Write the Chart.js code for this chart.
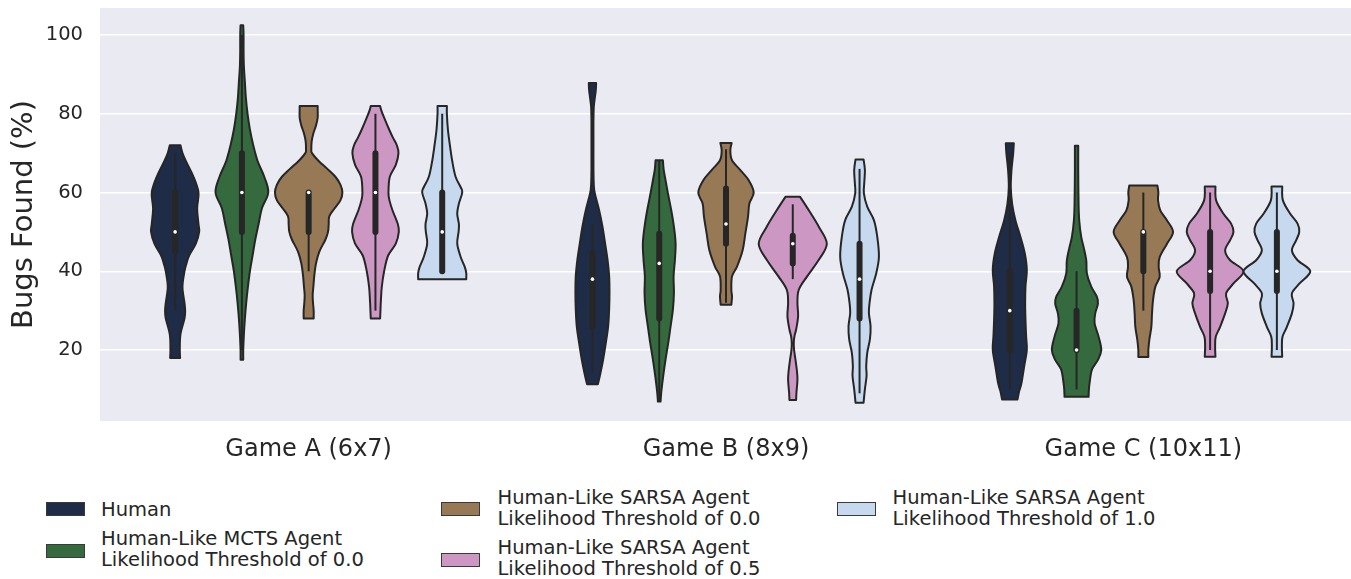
<!DOCTYPE html>
<html>
<head>
<meta charset="utf-8">
<script src="https://cdn.jsdelivr.net/npm/chart.js@4.4.1/dist/chart.umd.min.js"></script>
<style>
  html, body { margin: 0; padding: 0; background: #fff; overflow: hidden; }
  body { width: 1351px; height: 579px; position: relative; font-family: 'DejaVu Sans', sans-serif; color: #262626; }
  #chart { position: absolute; left: 0; top: 0; }
  .leg-text { position: absolute; font-size: 19.5px; line-height: 21px; white-space: nowrap; }
  .leg-patch { position: absolute; width: 39px; height: 14px; box-sizing: border-box; border: 1px solid #3a3a3a; }
</style>
</head>
<body>
<canvas id="chart" width="1356" height="470"></canvas>
<div id="legend"></div>
<script>
// categories, groups and ticks
const games = ['Game A (6x7)', 'Game B (8x9)', 'Game C (10x11)'];
const groupNames = [
  ['Human'],
  ['Human-Like MCTS Agent', 'Likelihood Threshold of 0.0'],
  ['Human-Like SARSA Agent', 'Likelihood Threshold of 0.0'],
  ['Human-Like SARSA Agent', 'Likelihood Threshold of 0.5'],
  ['Human-Like SARSA Agent', 'Likelihood Threshold of 1.0']
];
const groupColors = ['#1f2c47', '#346a3e', '#977955', '#cc98c3', '#c7d9ee'];
const yTicks = [20, 40, 60, 80, 100];

// inner box stats, one value per game (A, B, C)
const medians = [[50, 38, 30], [60, 42, 20], [60, 52, 50], [60, 47, 40], [50, 38, 40]];
const q1s     = [[45, 26, 20], [50, 28, 20], [50, 47, 40], [50, 42, 35], [40, 28, 35]];
const q3s     = [[60, 44.5, 40], [70, 49.5, 30], [60, 61, 50], [70, 49, 50], [60, 47, 50]];
const whiskLo = [[30, 14, 10], [20, 7, 10], [40, 32, 30], [30, 38, 20], [40, 9, 20]];
const whiskHi = [[70, 52, 70], [100, 68, 40], [60, 71, 60], [80, 57, 60], [80, 66, 60]];

// violin outlines, bottom to top: [bugs found %, half width in % of the widest violin]
const humanShapes = [
  [[18,15],[20,14],[24,16],[28,28],[30,30],[32,28],[36,22],[40,28],[42,34],[44,42],[47,62],[50,72],[52,70],[56,66],[60,70],[64,55],[68,32],[70,22],[72,16]],
  [[11.3,16],[13.4,22],[17.6,32],[21.8,40],[26,47],[30.3,50],[34.5,51],[38.7,50],[43,45],[47,38],[51.3,30],[55.5,20],[59.8,7],[62,4],[66,3],[72,3],[78,3],[81.7,4],[84,7],[86,10],[87.8,11]],
  [[7.4,23],[9.5,28],[11.6,35],[15.8,43],[20,51],[23.4,49],[27.6,47],[31.8,46],[36.1,47],[40.3,51],[44.5,45],[48.7,32],[52.9,17],[57.1,7],[61.3,3],[65.6,5],[69.8,10],[72.5,12]]
];
const mctsShapes = [
  [[17.5,4],[20,4],[24,6],[28,9],[32,13],[36,18],[40,24],[44,32],[48,40],[52,50],[56,60],[60,79],[64,67],[68,47],[72,34],[76,24],[80,17],[84,12],[88,9],[92,6],[96,5],[100,5],[102.5,4]],
  [[6.9,4],[9.2,6],[13.4,12],[17.6,19],[21.8,27],[26,34],[30.3,41],[34.5,44],[38.7,43],[42.9,47],[47.1,49],[51.3,44],[55.5,36],[59.8,26],[64,17],[66,13],[68.2,11]],
  [[8.1,36],[10,37],[11.6,39],[15,46],[17.5,64],[20,74],[23.4,66],[26.8,54],[29.3,56],[31.8,64],[33.5,61],[36.1,44],[39.4,31],[42.8,29],[46.2,21],[48.7,14],[52.9,8],[57.1,6],[65.6,5],[71.9,5]]
];
const sarsa00Shapes = [
  [[28,15],[30,15],[32,13],[34,12],[36,14],[39,17],[42,22],[45,32],[48,50],[50,58],[52,60],[54,62],[56,78],[58,95],[60,101],[62,95],[64,80],[66,56],[68,30],[70,10],[71,8],[73,9],[75,14],[77,22],[79,27],[81,27],[82,27]],
  [[31.5,16],[33.6,18],[35.3,16],[38.7,18],[41.2,33],[45.4,50],[49.6,58],[53.9,66],[57.2,70],[60,83],[63.1,68],[65.7,43],[68.2,18],[70.7,13],[72.6,17]],
  [[18.2,15],[20,15],[22.6,18],[25.9,24],[29.3,26],[32.7,29],[36.1,36],[38.6,49],[41.1,46],[43.6,49],[47,71],[50,89],[52.9,71],[55.4,51],[58,44],[60,45],[61.8,42]]
];
const sarsa05Shapes = [
  [[28,14],[30,15],[32,16],[36,19],[40,26],[44,38],[47,61],[50,70],[52,67],[55.5,51],[58,42],[60,39],[64,43],[67,61],[70,69],[72,64],[74,52],[76,41],[79,26],[81,17],[82,14]],
  [[7.3,10],[9.2,11],[12.5,14],[15,12],[17.6,8],[20,4],[21.8,3],[23.5,5],[25.2,10],[28.6,16],[32,14],[35.3,18],[38.7,43],[42.9,78],[47,102],[51.3,78],[55.5,48],[58.9,22]],
  [[18.3,16],[20.9,15],[23.4,17],[25.9,30],[29.3,45],[31.8,53],[34.4,48],[36.9,70],[40,100],[42.8,60],[45.3,45],[47.9,60],[50,70],[52.1,63],[54.6,40],[58,18],[61.5,16]]
];
const sarsa10Shapes = [
  [[38,72],[39.5,72],[41,68],[43.7,55],[47,45],[50,49],[52,50],[54.6,45],[57.2,50],[60,60],[61.4,55],[64,40],[68,30],[72,23],[76,17],[80,14],[82,14]],
  [[6.6,12],[10,16],[13.4,21],[15.9,20],[19.3,23],[22.7,31],[26,33],[29.4,28],[32,30],[35.3,36],[39.5,50],[43.7,58],[48.8,53],[53,43],[56.4,23],[59.8,13],[62.3,14],[65.7,16],[68.4,12]],
  [[18.3,16],[20.9,15],[23.4,17],[25.9,30],[29.3,45],[31.8,50],[34.4,45],[36.9,68],[40,100],[42.8,62],[45.3,45],[47.9,58],[50,67],[52.1,62],[54.6,40],[58,18],[61.5,16]]
];
const shapes = [humanShapes, mctsShapes, sarsa00Shapes, sarsa05Shapes, sarsa10Shapes];

// seaborn-like dodge: 0.8 of each category split between the five groups
const slot = 0.8 / groupNames.length;
const hueOffset = g => (g - (groupNames.length - 1) / 2) * slot;
const lineColor = '#262626';

// Catmull-Rom through the points, as bezier segments
function smoothThrough(ctx, pts) {
  for (let i = 0; i < pts.length - 1; i++) {
    const p0 = pts[Math.max(i - 1, 0)], p1 = pts[i], p2 = pts[i + 1], p3 = pts[Math.min(i + 2, pts.length - 1)];
    ctx.bezierCurveTo(
      p1.x + (p2.x - p0.x) / 6, p1.y + (p2.y - p0.y) / 6,
      p2.x - (p3.x - p1.x) / 6, p2.y - (p3.y - p1.y) / 6,
      p2.x, p2.y);
  }
}

const violinPlugin = {
  id: 'violins',
  beforeDraw(chart) {
    const { ctx, chartArea: a } = chart;
    ctx.save();
    ctx.fillStyle = '#eaeaf2';
    ctx.fillRect(a.left, a.top, a.right - a.left, a.bottom - a.top);
    ctx.restore();
  },
  beforeDatasetsDraw(chart) {
    const { ctx, chartArea: a, scales: { x, y } } = chart;
    ctx.save();
    ctx.beginPath();
    ctx.rect(a.left, a.top, a.right - a.left, a.bottom - a.top);
    ctx.clip();
    shapes.forEach((perGame, g) => {
      perGame.forEach((outline, k) => {
        const cx = k + hueOffset(g);
        const half = w => (slot / 2) * w / 100;
        const right = outline.map(([v, w]) => ({ x: x.getPixelForValue(cx + half(w)), y: y.getPixelForValue(v) }));
        const left = outline.map(([v, w]) => ({ x: x.getPixelForValue(cx - half(w)), y: y.getPixelForValue(v) })).reverse();
        ctx.beginPath();
        ctx.moveTo(right[0].x, right[0].y);
        smoothThrough(ctx, right);
        ctx.lineTo(left[0].x, left[0].y);
        smoothThrough(ctx, left);
        ctx.closePath();
        ctx.fillStyle = groupColors[g];
        ctx.fill();
        ctx.lineWidth = 2;
        ctx.lineJoin = 'round';
        ctx.strokeStyle = lineColor;
        ctx.stroke();

        const px = x.getPixelForValue(cx);
        ctx.strokeStyle = lineColor;
        ctx.lineCap = 'butt';
        ctx.lineWidth = 2;
        ctx.beginPath();
        ctx.moveTo(px, y.getPixelForValue(whiskLo[g][k]));
        ctx.lineTo(px, y.getPixelForValue(whiskHi[g][k]));
        ctx.stroke();
        ctx.lineCap = 'round';
        ctx.lineWidth = 6;
        ctx.beginPath();
        ctx.moveTo(px, y.getPixelForValue(q1s[g][k]));
        ctx.lineTo(px, y.getPixelForValue(q3s[g][k]));
        ctx.stroke();
      });
    });
    ctx.restore();
  }
};

const medianPoints = [];
medians.forEach((row, g) => row.forEach((m, k) => medianPoints.push({ x: k + hueOffset(g), y: m })));

const tickColor = '#262626';
new Chart(document.getElementById('chart'), {
  type: 'scatter',
  data: {
    datasets: [{
      label: 'median',
      data: medianPoints,
      pointRadius: 1.8,
      pointBorderWidth: 0,
      pointBackgroundColor: '#ffffff'
    }]
  },
  options: {
    responsive: false,
    animation: false,
    events: [],
    layout: { padding: { top: 8, right: 2, left: 0, bottom: 0 } },
    plugins: { legend: { display: false }, tooltip: { enabled: false } },
    scales: {
      x: {
        type: 'linear',
        min: -0.5,
        max: 2.5,
        afterBuildTicks: s => { s.ticks = games.map((_, i) => ({ value: i })); },
        afterFit: s => { s.height = 49; },
        grid: { display: false, drawTicks: false },
        border: { display: false },
        ticks: {
          autoSkip: false,
          maxRotation: 0,
          padding: 14,
          color: tickColor,
          font: { family: 'DejaVu Sans', size: 24 },
          callback: v => games[v]
        }
      },
      y: {
        type: 'linear',
        min: 1.97,
        max: 106.86,
        afterBuildTicks: s => { s.ticks = yTicks.map(v => ({ value: v })); },
        // fixed axis width, and no extra room above/below for the end labels
        afterFit: s => { s.width = 100; s.paddingTop = 0; s.paddingBottom = 0; },
        grid: { color: '#ffffff', lineWidth: 1.5, drawTicks: false },
        border: { display: false },
        ticks: {
          padding: 17,
          color: tickColor,
          font: { family: 'DejaVu Sans', size: 19.5 }
        },
        title: {
          display: true,
          text: 'Bugs Found (%)',
          color: tickColor,
          font: { family: 'DejaVu Sans', size: 29 },
          padding: { top: 7, bottom: 0 }
        }
      }
    }
  },
  plugins: [violinPlugin]
});

// legend: three columns like the original figure
const legendSpots = [
  { px: 46, py: 502, tx: 101, ty: 498.5 },
  { px: 46, py: 543.5, tx: 101, ty: 528 },
  { px: 441, py: 502, tx: 497.5, ty: 487 },
  { px: 441, py: 553, tx: 497.5, ty: 537 },
  { px: 837, py: 502, tx: 892.5, ty: 487 }
];
const legend = document.getElementById('legend');
groupNames.forEach((lines, g) => {
  const s = legendSpots[g];
  const patch = document.createElement('div');
  patch.className = 'leg-patch';
  patch.style.left = s.px + 'px';
  patch.style.top = s.py + 'px';
  patch.style.background = groupColors[g];
  legend.appendChild(patch);
  const text = document.createElement('div');
  text.className = 'leg-text';
  text.style.left = s.tx + 'px';
  text.style.top = s.ty + 'px';
  text.innerHTML = lines.join('<br>');
  legend.appendChild(text);
});
</script>
</body>
</html>
